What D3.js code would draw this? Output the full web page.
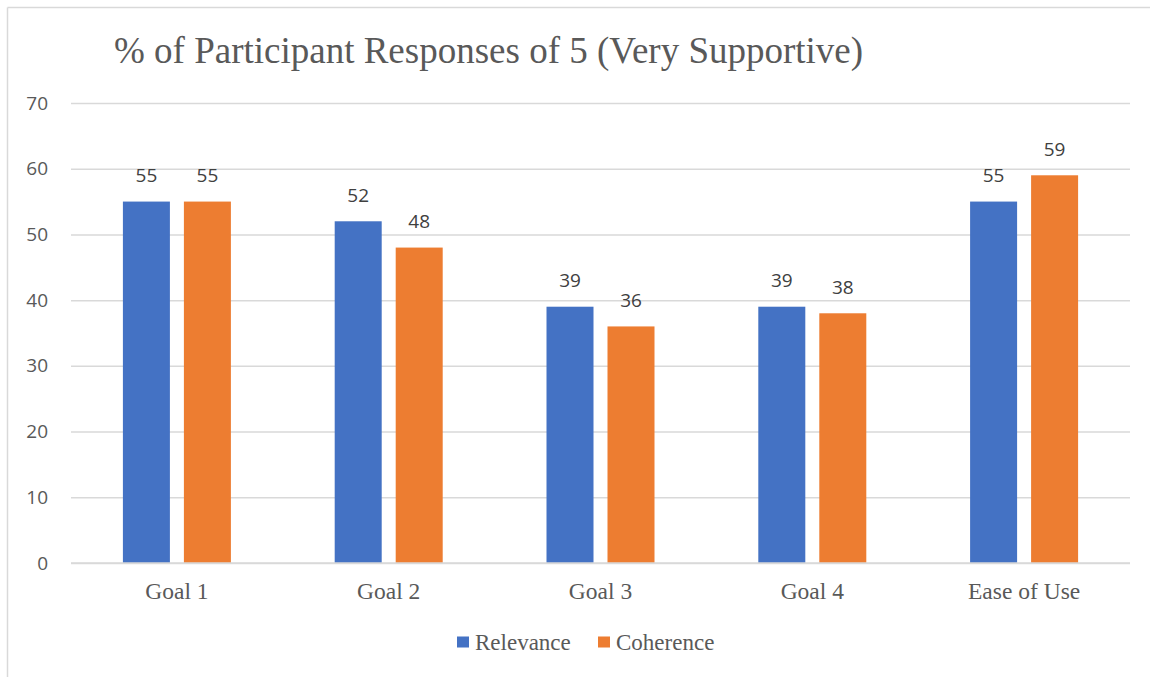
<!DOCTYPE html>
<html><head><meta charset="utf-8">
<script src="https://cdn.jsdelivr.net/npm/d3@7"></script>
<style>body{margin:0;background:#fff}</style>
</head><body>
<svg id="c" width="1150" height="677"></svg>
<script>
const categories = ["Goal 1","Goal 2","Goal 3","Goal 4","Ease of Use"];
const seriesNames = ["Relevance","Coherence"];
const relevance = [55,52,39,39,55];
const coherence = [55,48,36,38,59];
const yTicks = [0,10,20,30,40,50,60,70];
const colors = ["#4472C4","#ED7D31"];

const svg = d3.select("#c");
svg.append("line").attr("x1",7.5).attr("x2",1150).attr("y1",7.5).attr("y2",7.5).attr("stroke","#d9d9d9").attr("stroke-width",1.5);
svg.append("line").attr("x1",7.5).attr("x2",7.5).attr("y1",7.5).attr("y2",677).attr("stroke","#d9d9d9").attr("stroke-width",1.5);

const L=71, R=1130, T=103, B=563;
const x = d3.scaleBand().domain(categories).range([L,R]).paddingInner(0).paddingOuter(0);
const y = d3.scaleLinear().domain([0,70]).range([B,T]);

svg.append("text").attr("x",114).attr("y",63).attr("font-family","Liberation Serif, Times New Roman, serif")
  .attr("font-size",37).attr("fill","#595959").text("% of Participant Responses of 5 (Very Supportive)");

const yAxis = d3.axisLeft(y).tickValues(yTicks).tickSize(-(R-L)).tickPadding(23);
const ga = svg.append("g").attr("transform",`translate(${L},0)`).call(yAxis);
ga.select(".domain").remove();
ga.selectAll(".tick line").attr("stroke","#d9d9d9").attr("stroke-width",1.5);
ga.selectAll(".tick text").attr("font-family","Open Sans, DejaVu Sans, sans-serif").attr("font-size",19).attr("fill","#595959");

const data = categories.map((c,i)=>({c, vals:[relevance[i],coherence[i]]}));
const bw = 47, gap = 14;
const g = svg.append("g");
data.forEach(d=>{
  const cx = x(d.c)+x.bandwidth()/2;
  d.vals.forEach((v,j)=>{
    const bx = j===0 ? cx-gap/2-bw : cx+gap/2;
    g.append("rect").attr("x",bx).attr("width",bw).attr("y",y(v)).attr("height",y(0)-y(v)).attr("fill",colors[j]);
    g.append("text").attr("x",bx+bw/2).attr("y",y(v)-19.5).attr("text-anchor","middle")
      .attr("font-family","Open Sans, DejaVu Sans, sans-serif").attr("font-size",19).attr("fill","#404040").text(v);
  });
});
svg.append("line").attr("x1",L).attr("x2",R).attr("y1",B).attr("y2",B).attr("stroke","#d9d9d9").attr("stroke-width",1.5);

const xAxis = d3.axisBottom(x).tickSize(0).tickPadding(19);
const gx = svg.append("g").attr("transform",`translate(0,${B})`).call(xAxis);
gx.select(".domain").remove();
gx.selectAll(".tick text").attr("font-family","Liberation Serif, Times New Roman, serif").attr("font-size",23.5).attr("fill","#595959");

const leg = [{n:seriesNames[0],x:457},{n:seriesNames[1],x:598}];
leg.forEach((l,i)=>{
  svg.append("rect").attr("x",l.x).attr("y",636.5).attr("width",12).attr("height",11).attr("fill",colors[i]);
  svg.append("text").attr("x",l.x+18).attr("y",650).attr("font-family","Liberation Serif, Times New Roman, serif")
    .attr("font-size",23).attr("fill","#595959").text(l.n);
});
</script>
</body></html>
